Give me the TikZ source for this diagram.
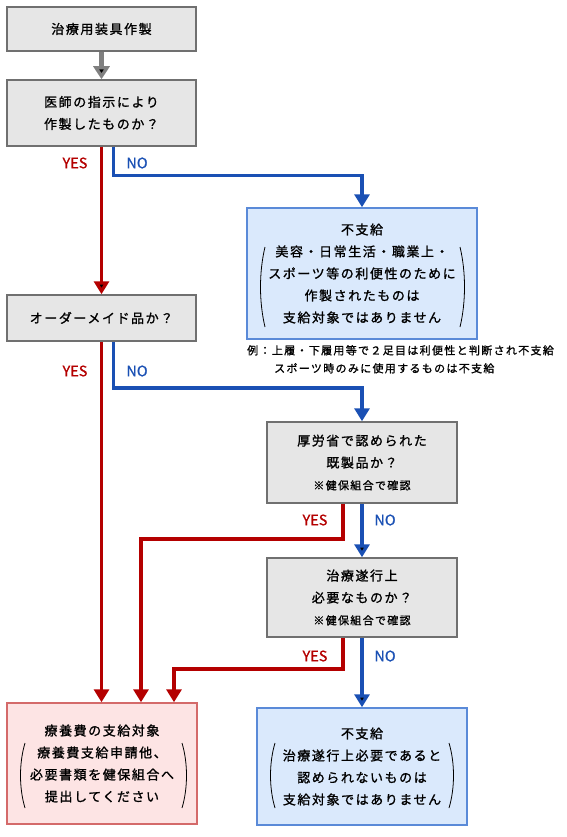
\documentclass[tikz,border=0pt]{standalone}
\usepackage{fontspec}
\setmainfont{Noto Sans CJK JP}
\newfontfamily\boxfont{Noto Sans CJK JP}[LetterSpace=12,FakeBold=1.2]
\newfontfamily\labelfont{Noto Sans CJK JP}[FakeBold=0.8]
\usetikzlibrary{arrows.meta}
\definecolor{boxline}{HTML}{707070}
\definecolor{boxfill}{HTML}{E6E6E6}
\definecolor{arrgray}{HTML}{808080}
\definecolor{cred}{HTML}{B40000}
\definecolor{cblue}{HTML}{1A50B4}
\definecolor{bluefill}{HTML}{DAE9FC}
\definecolor{blueline}{HTML}{5A8AD8}
\definecolor{pinkfill}{HTML}{FDE4E4}
\definecolor{pinkline}{HTML}{D46A6A}
\tikzset{
    graybox/.style = {rectangle, draw=boxline, fill=boxfill, line width=1.5pt, inner sep=0pt, align=center, font=\boxfont\fontsize{13}{22}\selectfont},
    bluebox/.style = {graybox, draw=blueline, fill=bluefill},
    pinkbox/.style = {graybox, draw=pinkline, fill=pinkfill},
    edgeg/.style = {-{Triangle[width=16pt,length=13pt]},line width=4.5pt,draw=arrgray},
    edger/.style = {-{Triangle[width=15pt,length=13pt]},line width=3.5pt,draw=cred},
    edgeb/.style = {-{Triangle[width=15pt,length=13pt]},line width=3.5pt,draw=cblue},
    yes/.style = {text=cred, font=\labelfont\fontsize{14.5}{16}\selectfont},
    no/.style = {text=cblue, font=\labelfont\fontsize{14.5}{16}\selectfont},
    paren/.style = {draw=black, line width=0.8pt},
    note/.style = {align=left, inner sep=0pt, font=\boxfont\fontsize{11}{18}\selectfont}
}
\begin{document}
\begin{tikzpicture}[x=1pt,y=-1pt]
%
\node[graybox,minimum width=189pt,minimum height=44pt] at (101.5,29) (n1) {治療用装具作製};
\node[graybox,minimum width=189pt,minimum height=66pt] at (101.5,113) (n2) {医師の指示により\\作製したものか？};
\node[graybox,minimum width=189pt,minimum height=46pt] at (101.5,318) (n3) {オーダーメイド品か？};
\node[bluebox,minimum width=230pt,minimum height=131pt] at (362,273.5) (nb1) {不支給\\美容・日常生活・職業上・\\スポーツ等の利便性のために\\作製されたものは\\支給対象ではありません};
\node[graybox,minimum width=190pt,minimum height=81pt] at (362,462.5) (n4) {厚労省で認められた\\既製品か？\\{\boxfont\fontsize{11}{22}\selectfont ※健保組合で確認}};
\node[graybox,minimum width=190pt,minimum height=79pt] at (362,597.5) (n5) {治療遂行上\\必要なものか？\\{\boxfont\fontsize{11}{22}\selectfont ※健保組合で確認}};
\node[bluebox,minimum width=210pt,minimum height=117pt] at (362,766.5) (nb2) {不支給\\治療遂行上必要であると\\認められないものは\\支給対象ではありません};
\node[pinkbox,minimum width=190pt,minimum height=121pt] at (102,763.5) (np) {療養費の支給対象\\療養費支給申請他、\\必要書類を健保組合へ\\提出してください};
%
\node[note,anchor=north west] at (247,345) (nt) {例：上履・下履用等で２足目は利便性と判断され不支給\\\hspace*{27pt}スポーツ時のみに使用するものは不支給};
%
\draw[edgeg] (n1) edge (n2);
\draw[edger] (n2) edge (n3);
\draw[edgeb] ([xshift=12pt]n2.south) -- ++(0,29) -| (nb1.north);
\draw[edger] (n3.south) -- (n3.south |- np.north);
\draw[edgeb] ([xshift=12pt]n3.south) -- ++(0,46) -| (n4.north);
\draw[edger] ([xshift=-19pt]n4.south) -- ++(0,35) -| ([xshift=39pt]np.north);
\draw[edgeb] (n4) edge (n5);
\draw[edger] ([xshift=-19pt]n5.south) -- ++(0,31) -| ([xshift=72pt]np.north);
\draw[edgeb] (n5) edge (nb2);
%
\node[yes] at (75,163) (y1) {YES};
\node[no] at (137,163) (o1) {NO};
\node[yes] at (75,371) (y2) {YES};
\node[no] at (137,371) (o2) {NO};
\node[yes] at (315,520) (y3) {YES};
\node[no] at (385,520) (o3) {NO};
\node[yes] at (315,656) (y4) {YES};
\node[no] at (385,656) (o4) {NO};
%
\draw[paren] (265,247) .. controls (259,272) and (259,302) .. (265,327);
\draw[paren] (460,247) .. controls (466,272) and (466,302) .. (460,327);
\draw[paren] (275,743) .. controls (269,763) and (269,788) .. (275,808);
\draw[paren] (449,743) .. controls (455,763) and (455,788) .. (449,808);
\draw[paren] (25,743) .. controls (19,763) and (19,788) .. (25,808);
\draw[paren] (182,743) .. controls (188,763) and (188,788) .. (182,808);

\path[use as bounding box] (0,0) rectangle (566,837);

\end{tikzpicture}
\end{document}
